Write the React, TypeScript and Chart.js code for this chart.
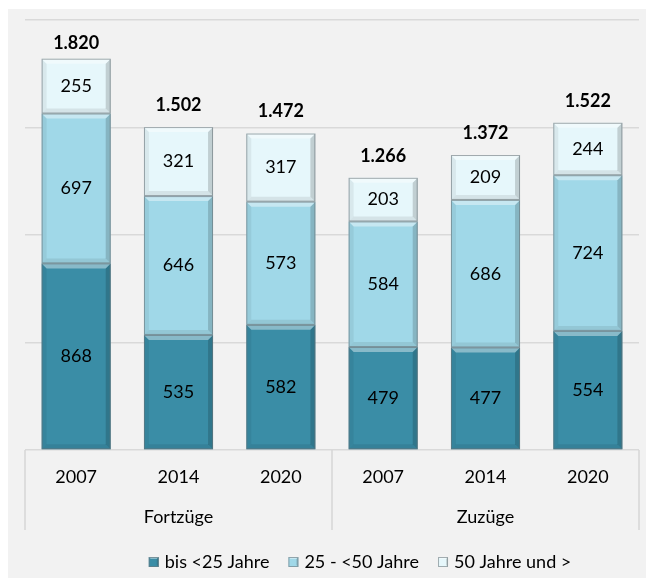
import React, { useEffect, useRef } from "react";
import { Chart, registerables } from "chart.js";

Chart.register(...registerables);

// ---- data ----
const years = ["2007", "2014", "2020", "2007", "2014", "2020"];
const groups = ["Fortzüge", "Zuzüge"];
const groupSizes = [3, 3];
const under25 = [868, 535, 582, 479, 477, 554];
const from25to50 = [697, 646, 573, 584, 686, 724];
const over50 = [255, 321, 317, 203, 209, 244];
const totals = [1820, 1502, 1472, 1266, 1372, 1522];
const seriesNames = ["bis <25 Jahre", "25 - <50 Jahre", "50 Jahre und >"];
const yMin = 0;
const yMax = 2000;
const yStep = 500;

const seriesColors = ["#3a8da6", "#a0d8e8", "#e6f7fb"];
const FONT = "Lato, 'Noto Sans', sans-serif";

function fmtDe(n: number): string {
  const s = String(Math.round(n));
  return s.replace(/\B(?=(\d{3})+(?!\d))/g, ".");
}

function poly(ctx: CanvasRenderingContext2D, pts: number[][], fill: string) {
  ctx.beginPath();
  ctx.moveTo(pts[0][0], pts[0][1]);
  for (let i = 1; i < pts.length; i++) ctx.lineTo(pts[i][0], pts[i][1]);
  ctx.closePath();
  ctx.fillStyle = fill;
  ctx.fill();
}

const decorPlugin = {
  id: "decor",
  beforeDraw(chart: any) {
    const ctx = chart.ctx;
    ctx.save();
    ctx.fillStyle = "#f2f2f2";
    ctx.fillRect(0, 1, chart.width, chart.height);
    ctx.restore();
  },
  afterDatasetsDraw(chart: any) {
    const ctx: CanvasRenderingContext2D = chart.ctx;
    const bev = 5;
    ctx.save();
    chart.data.datasets.forEach((ds: any, di: number) => {
      const meta = chart.getDatasetMeta(di);
      meta.data.forEach((el: any, i: number) => {
        const p = el.getProps(["x", "y", "base", "width"], true);
        const L = p.x - p.width / 2;
        const R = p.x + p.width / 2;
        const T = Math.min(p.y, p.base);
        const B = Math.max(p.y, p.base);
        poly(ctx, [[L, T], [L + bev, T + bev], [L + bev, B - bev], [L, B]], "rgba(0,0,0,0.06)");
        poly(ctx, [[R, T], [R - bev, T + bev], [R - bev, B - bev], [R, B]], "rgba(0,0,0,0.16)");
        poly(ctx, [[L, T], [R, T], [R - bev, T + bev], [L + bev, T + bev]], "rgba(255,255,255,0.4)");
        poly(ctx, [[L, B], [R, B], [R - bev, B - bev], [L + bev, B - bev]], "rgba(0,0,0,0.08)");
        ctx.strokeStyle = "rgba(105,115,120,0.6)";
        ctx.lineWidth = 1;
        ctx.strokeRect(L + 0.5, T + 0.5, p.width - 1, B - T - 1);
        ctx.fillStyle = "#000";
        ctx.font = `18px ${FONT}`;
        ctx.textAlign = "center";
        ctx.textBaseline = "middle";
        ctx.fillText(String(ds.data[i]), p.x, (T + B) / 2);
      });
    });
    const top = chart.getDatasetMeta(chart.data.datasets.length - 1);
    top.data.forEach((el: any, i: number) => {
      const p = el.getProps(["x", "y"], true);
      const y = Math.max(p.y - 22, chart.chartArea.top + 23);
      ctx.fillStyle = "#000";
      ctx.font = `bold 18px ${FONT}`;
      ctx.textAlign = "center";
      ctx.textBaseline = "middle";
      ctx.fillText(fmtDe(totals[i]), p.x, y);
    });
    ctx.restore();
  },
  afterDraw(chart: any) {
    const ctx: CanvasRenderingContext2D = chart.ctx;
    const xs = chart.scales.x;
    const area = chart.chartArea;
    ctx.save();
    ctx.fillStyle = "#000";
    ctx.font = `18px ${FONT}`;
    ctx.textAlign = "center";
    ctx.textBaseline = "middle";
    years.forEach((yr, i) => {
      ctx.fillText(yr, xs.getPixelForValue(i), area.bottom + 27);
    });
    const sepX: number[] = [area.left];
    let start = 0;
    groups.forEach((g, gi) => {
      const end = start + groupSizes[gi] - 1;
      const cx = (xs.getPixelForValue(start) + xs.getPixelForValue(end)) / 2;
      ctx.fillText(g, cx, area.bottom + 67);
      if (gi < groups.length - 1) {
        sepX.push((xs.getPixelForValue(end) + xs.getPixelForValue(end + 1)) / 2);
      }
      start = end + 1;
    });
    sepX.push(area.right);
    ctx.strokeStyle = "#d6d6d6";
    ctx.lineWidth = 1.5;
    sepX.forEach((x) => {
      ctx.beginPath();
      ctx.moveTo(x, area.bottom);
      ctx.lineTo(x, area.bottom + 80);
      ctx.stroke();
    });
    ctx.font = `18px ${FONT}`;
    const box = 10;
    const gapText = 6;
    const gapItem = 19;
    const widths = seriesNames.map((s) => ctx.measureText(s).width);
    const total = widths.reduce((a, w) => a + box + gapText + w, 0) + gapItem * (seriesNames.length - 1);
    let x = 352 - total / 2;
    const ly = 554;
    ctx.textAlign = "left";
    seriesNames.forEach((s, i) => {
      ctx.fillStyle = seriesColors[i];
      ctx.fillRect(x, ly - box / 2, box, box);
      poly(ctx, [[x, ly - box / 2], [x + box, ly - box / 2], [x + box - 2, ly - box / 2 + 2], [x + 2, ly - box / 2 + 2]], "rgba(255,255,255,0.4)");
      poly(ctx, [[x + box, ly - box / 2], [x + box, ly + box / 2], [x + box - 2, ly + box / 2 - 2], [x + box - 2, ly - box / 2 + 2]], "rgba(0,0,0,0.15)");
      ctx.strokeStyle = "rgba(110,120,125,0.6)";
      ctx.lineWidth = 1;
      ctx.strokeRect(x + 0.5, ly - box / 2 + 0.5, box - 1, box - 1);
      ctx.fillStyle = "#000";
      ctx.fillText(s, x + box + gapText, ly);
      x += box + gapText + widths[i] + gapItem;
    });
    ctx.restore();
  },
};

export default function App() {
  const ref = useRef<HTMLCanvasElement | null>(null);
  useEffect(() => {
    if (!ref.current) return;
    const chart = new Chart(ref.current, {
      type: "bar",
      data: {
        labels: years.map((y, i) => `${y}-${i}`),
        datasets: [
          { label: seriesNames[0], data: under25, backgroundColor: seriesColors[0], borderWidth: 0 },
          { label: seriesNames[1], data: from25to50, backgroundColor: seriesColors[1], borderWidth: 0 },
          { label: seriesNames[2], data: over50, backgroundColor: seriesColors[2], borderWidth: 0 },
        ],
      },
      options: {
        responsive: false,
        animation: false,
        layout: { padding: { left: 17, right: 15, top: 12, bottom: 128 } },
        datasets: { bar: { categoryPercentage: 1, barPercentage: 0.675 } },
        plugins: { legend: { display: false }, tooltip: { enabled: false } },
        scales: {
          x: { stacked: true, display: false },
          y: {
            stacked: true,
            min: yMin,
            max: yMax,
            ticks: { display: false, stepSize: yStep },
            border: { display: false },
            grid: { color: "#d9d9d9", lineWidth: 1.5, drawTicks: false },
          },
        },
      },
      plugins: [decorPlugin],
    });
    return () => chart.destroy();
  }, []);
  return <canvas ref={ref} width={646} height={570} style={{ display: "block" }} />;
}
